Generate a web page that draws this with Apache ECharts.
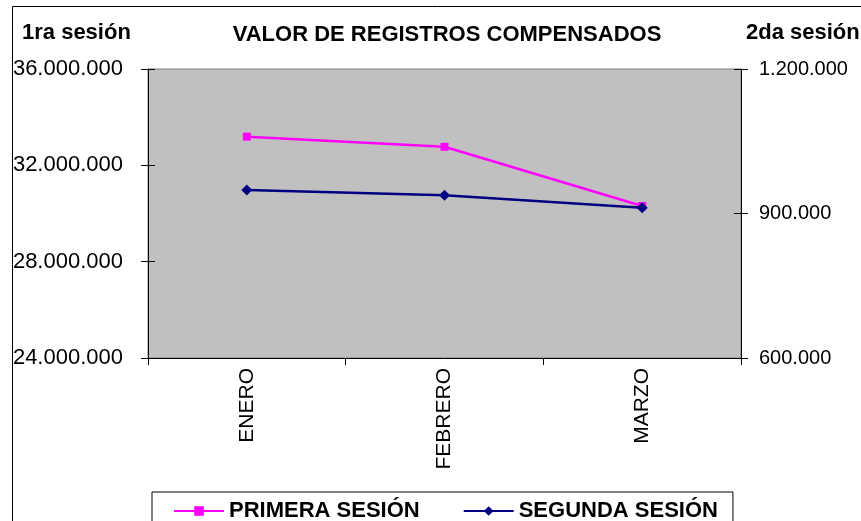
<!DOCTYPE html>
<html>
<head>
<meta charset="utf-8">
<script src="https://cdn.jsdelivr.net/npm/echarts@6/dist/echarts.min.js"></script>
<style>
  html, body { margin: 0; padding: 0; background: #fff; }
  #chart { width: 861px; height: 521px; }
</style>
</head>
<body>
<div id="chart"></div>
<script>
// datos del grafico
const meses = ["ENERO", "FEBRERO", "MARZO"];
const primeraSesion = [33190000, 32770000, 30310000];
const segundaSesion = [949000, 938000, 912000];
const ejeIzq = { min: 24000000, max: 36000000, interval: 4000000 };
const ejeDer = { min: 600000, max: 1200000, interval: 300000 };

// separador de miles con punto
function fmt(v) {
  return String(v).replace(/\B(?=(\d{3})+(?!\d))/g, ".");
}

const chart = echarts.init(document.getElementById("chart"));
const fuente = "'Liberation Sans', Arial, sans-serif";

// eje "fantasma" solo para dibujar la parte interior de las marcas (estilo cruzado)
function ejeInterior(pos, rango) {
  return {
    type: "value",
    position: pos,
    min: rango.min, max: rango.max, interval: rango.interval,
    axisLine: { show: false },
    axisTick: { show: true, inside: true, length: 7, lineStyle: { color: "#000" } },
    axisLabel: { show: false },
    splitLine: { show: false },
  };
}

const option = {
  animation: false,
  textStyle: { fontFamily: fuente },
  title: [
    {
      text: "VALOR DE REGISTROS COMPENSADOS",
      left: 442, top: 19, textAlign: "center",
      textStyle: { fontSize: 22, fontWeight: "bold", color: "#000", fontFamily: fuente },
    },
    {
      text: "1ra sesión",
      left: 17, top: 17,
      textStyle: { fontSize: 22, fontWeight: "bold", color: "#000", fontFamily: fuente },
    },
    {
      text: "2da sesión",
      left: 741, top: 17,
      textStyle: { fontSize: 22, fontWeight: "bold", color: "#000", fontFamily: fuente },
    },
  ],
  graphic: [
    {
      type: "rect",
      shape: { x: 12.5, y: 6.5, width: 900, height: 600 },
      style: { fill: "none", stroke: "#000", lineWidth: 1 },
      silent: true,
    },
  ],
  legend: {
    left: 152, top: 492,
    padding: [8, 15, 30, 21],
    itemGap: 43,
    itemWidth: 50,
    itemHeight: 12,
    borderColor: "#000",
    borderWidth: 1,
    textStyle: { fontSize: 22, fontWeight: "bold", color: "#000", fontFamily: fuente },
    data: ["PRIMERA SESIÓN", "SEGUNDA SESIÓN"],
  },
  grid: {
    left: 148, right: 120, top: 69, bottom: 163,
    show: true,
    backgroundColor: "#C0C0C0",
    borderColor: "#808080",
    borderWidth: 1,
  },
  xAxis: {
    type: "category",
    data: meses,
    boundaryGap: true,
    axisLine: { lineStyle: { color: "#000", width: 1 } },
    axisTick: { show: true, length: 7, lineStyle: { color: "#000" } },
    axisLabel: { rotate: 90, margin: 10, fontSize: 21, color: "#000", fontFamily: fuente },
  },
  yAxis: [
    {
      type: "value",
      position: "left",
      min: ejeIzq.min, max: ejeIzq.max, interval: ejeIzq.interval,
      axisLine: { show: true, lineStyle: { color: "#000" } },
      axisTick: { show: true, length: 7, lineStyle: { color: "#000" } },
      splitLine: { show: false },
      axisLabel: { formatter: fmt, fontSize: 22, color: "#000", margin: 25, fontFamily: fuente },
    },
    {
      type: "value",
      position: "right",
      min: ejeDer.min, max: ejeDer.max, interval: ejeDer.interval,
      axisLine: { show: true, lineStyle: { color: "#000" } },
      axisTick: { show: true, length: 7, lineStyle: { color: "#000" } },
      splitLine: { show: false },
      axisLabel: { formatter: fmt, fontSize: 20, color: "#000", margin: 18, fontFamily: fuente },
    },
    ejeInterior("left", ejeIzq),
    ejeInterior("right", ejeDer),
  ],
  series: [
    {
      name: "PRIMERA SESIÓN",
      type: "line",
      yAxisIndex: 0,
      data: primeraSesion,
      symbol: "rect",
      symbolSize: 8,
      lineStyle: { color: "#FF00FF", width: 2.5 },
      itemStyle: { color: "#FF00FF" },
    },
    {
      name: "SEGUNDA SESIÓN",
      type: "line",
      yAxisIndex: 1,
      data: segundaSesion,
      symbol: "diamond",
      symbolSize: 11,
      lineStyle: { color: "#000080", width: 2.5 },
      itemStyle: { color: "#000080" },
    },
  ],
};

chart.setOption(option);
</script>
</body>
</html>
